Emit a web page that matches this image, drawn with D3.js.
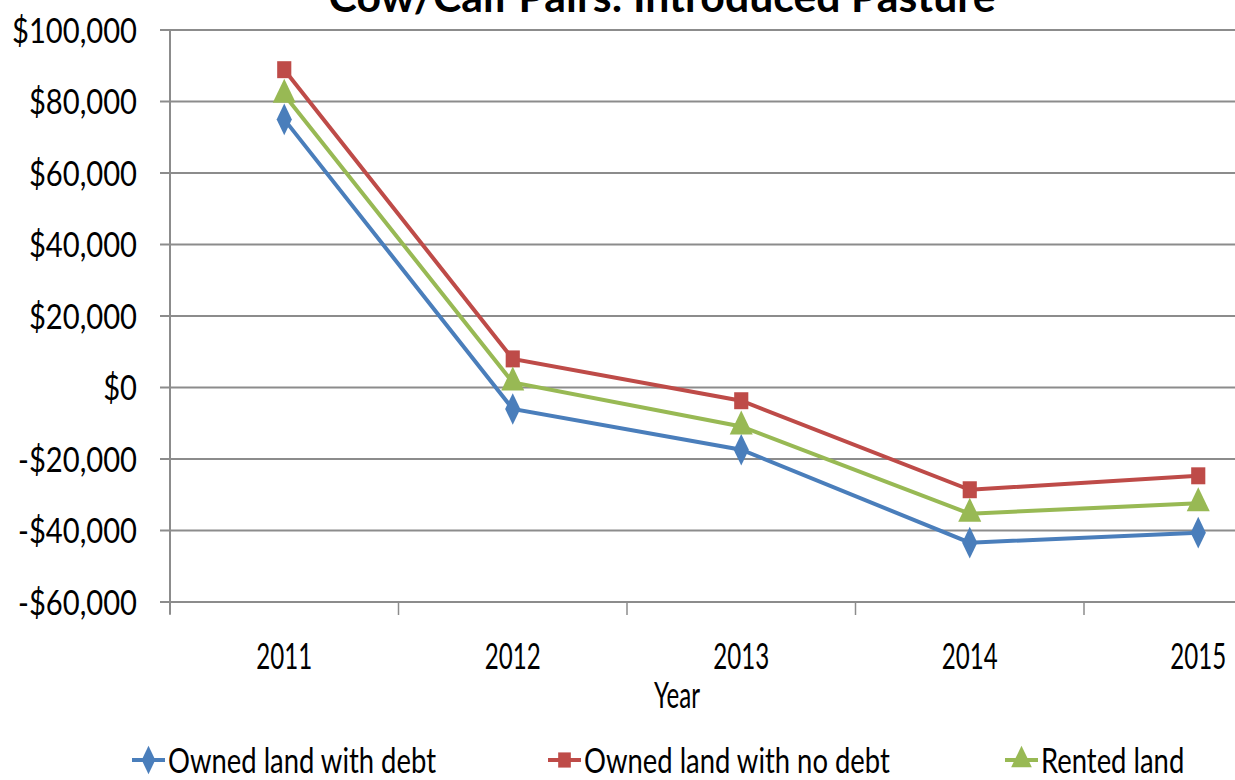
<!DOCTYPE html>
<html><head><meta charset="utf-8">
<script src="https://cdn.jsdelivr.net/npm/d3@7"></script>
<style>
body{margin:0;background:#fff;overflow:hidden}
text{font-family:Lato,"Open Sans",sans-serif;fill:#000}
</style></head><body>
<svg id="c" width="1235" height="780"></svg>
<script>
const title = "Cow/Calf Pairs: Introduced Pasture";
const years = ["2011","2012","2013","2014","2015"];
const yTicks = [-60000,-40000,-20000,0,20000,40000,60000,80000,100000];
const seriesNames = ["Owned land with debt","Owned land with no debt","Rented land"];
const ownedDebt   = [75000, -6000, -17400, -43400, -40600];
const ownedNoDebt = [88900, 8000, -3700, -28600, -24700];
const rented      = [81900, 1400, -10900, -35300, -32400];
const colors = ["#4a7ebb","#be4b48","#98b954"];
const shapes = [d3.symbolDiamond, d3.symbolSquare, d3.symbolTriangle];

const svg = d3.select("#c");
const mLeft = 170, mTop = 30, mBottom = 602, bandW = 228.5;
const x = d3.scaleBand().domain(years).range([mLeft, mLeft + bandW*years.length]);
const y = d3.scaleLinear().domain([-60000,100000]).range([mBottom, mTop]);
const fmt = v => (v<0?"-":"") + "$" + d3.format(",")(Math.abs(v));
const FS = 35;

function measure(str, size, weight){
  const t = svg.append("text").style("font-size",size+"px").style("font-weight",weight||"normal").text(str);
  const w = t.node().getComputedTextLength(); t.remove(); return w;
}
const kY = 125 / measure("$100,000", FS);
const kX = 56 / measure("2011", 36);
const kL = 268 / measure("Owned land with debt", FS);
const kT = 667 / measure(title, 42, "bold");

function label(parent, px, py, str, anchor, kk, size, weight){
  const g = parent.append("g").attr("transform",`translate(${px},${py}) scale(${kk},1)`);
  g.append("text").attr("text-anchor",anchor).style("font-size",(size||FS)+"px")
    .style("font-weight",weight||"normal").attr("dy","0.36em").text(str);
  return g;
}

// gridlines
svg.append("g").selectAll("line").data(yTicks).join("line")
  .attr("x1", mLeft-10).attr("x2", 1240).attr("y1", d=>y(d)).attr("y2", d=>y(d))
  .attr("stroke","#8c8c8c").attr("stroke-width",2);
// y axis line
svg.append("line").attr("x1",mLeft).attr("x2",mLeft).attr("y1",mTop).attr("y2",mBottom+12)
  .attr("stroke","#8c8c8c").attr("stroke-width",2);
// y labels
const yl = svg.append("g");
yTicks.forEach(v=>label(yl, 137, y(v), fmt(v), "end", kY));
// x ticks (between categories)
const bounds = years.map(d=>x(d)).concat([x(years[years.length-1])+bandW]);
svg.append("g").selectAll("line").data(bounds).join("line")
  .attr("x1",d=>d).attr("x2",d=>d).attr("y1",mBottom).attr("y2",mBottom+13)
  .attr("stroke","#8c8c8c").attr("stroke-width",1.5);
const xl = svg.append("g");
years.forEach(d=>label(xl, x(d)+bandW/2, 656, d, "middle", kX, 36));
label(svg, 677, 695, "Year", "middle", kX, 36);
// title
label(svg, 662, -3, title, "middle", kT, 42, "bold");

const data = [ownedDebt, ownedNoDebt, rented];
const line = d3.line().x((d,i)=>x(years[i])+bandW/2).y(d=>y(d));
const symSizes = [200, 200, 230];
data.forEach((vals,j)=>{
  svg.append("path").attr("d",line(vals)).attr("fill","none")
    .attr("stroke",colors[j]).attr("stroke-width",4);
  svg.append("g").selectAll("path").data(vals).join("path")
    .attr("transform",(d,i)=>`translate(${x(years[i])+bandW/2},${y(d)}) scale(1,1.2)`)
    .attr("d",d3.symbol().type(shapes[j]).size(symSizes[j]))
    .attr("fill",colors[j]);
});

// legend
const legX = [132, 548, 1005];
const lg = svg.append("g");
seriesNames.forEach((n,j)=>{
  const g = lg.append("g").attr("transform",`translate(${legX[j]},760)`);
  g.append("line").attr("x1",0).attr("x2",33).attr("stroke",colors[j]).attr("stroke-width",4);
  g.append("path").attr("transform","translate(16.5,0) scale(1,1.2)").attr("d",d3.symbol().type(shapes[j]).size(symSizes[j]*0.8)).attr("fill",colors[j]);
  label(g, 36, 0, n, "start", kL);
});
</script></body></html>
